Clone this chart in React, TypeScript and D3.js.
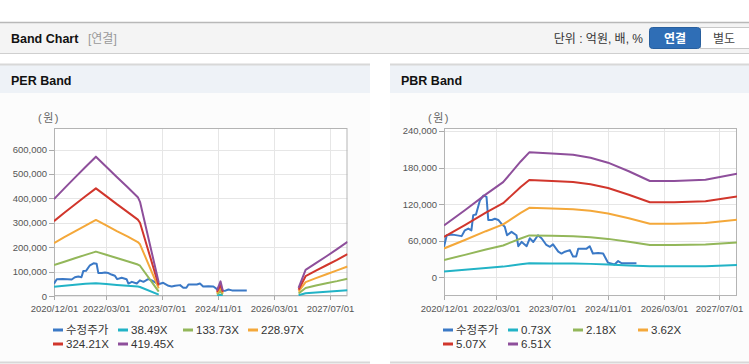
import React from "react";
import * as d3 from "d3";

// ---------------- data ----------------
const xDomain = ["2020-12-01", "2027-12-01"];
const xTickDates = ["2020-12-01", "2022-03-01", "2023-07-01", "2024-11-01", "2026-03-01", "2027-07-01"];
const xTickLabels = ["2020/12/01", "2022/03/01", "2023/07/01", "2024/11/01", "2026/03/01", "2027/07/01"];

const priceLabel = "수정주가";
const priceDates = [
  "2020-12-01", "2020-12-25", "2021-02-15", "2021-05-04", "2021-06-01", "2021-07-01", "2021-07-28",
  "2021-08-13", "2021-09-06", "2021-10-10", "2021-11-10", "2021-12-07", "2021-12-22", "2022-01-22",
  "2022-02-18", "2022-03-20", "2022-04-15", "2022-05-15", "2022-06-04", "2022-07-13", "2022-08-25",
  "2022-09-10", "2022-10-10", "2022-11-22", "2022-12-19", "2023-01-19", "2023-03-01", "2023-04-01",
  "2023-05-13", "2023-06-13", "2023-07-10", "2023-08-25", "2023-09-22", "2023-10-22", "2023-12-04",
  "2024-01-01", "2024-01-28", "2024-02-15", "2024-04-28", "2024-05-25", "2024-06-22", "2024-08-06",
  "2024-09-19", "2024-11-01", "2024-12-28", "2025-01-28", "2025-02-28", "2025-07-07",
];
const priceValues = [
  50000, 69000, 70000, 67500, 77000, 80000, 77000,
  102000, 103000, 126000, 134000, 132000, 94000, 94000,
  96000, 94000, 88000, 83000, 69000, 74500, 69000,
  51000, 58000, 51000, 64000, 58000, 69000, 64000,
  53000, 50000, 54000, 42000, 39000, 42000, 44600,
  34000, 34000, 47000, 47000, 51000, 39000, 40000,
  39000, 24000, 21000, 26600, 23000, 23000,
];

// PER band (null = no data)
const perBandLabels = ["38.49X", "133.73X", "228.97X", "324.21X", "419.45X"];
const perBandDates = [
  "2020-12-01", "2021-03-01", "2021-06-01", "2021-09-01", "2021-12-01", "2022-03-01", "2022-06-01",
  "2022-09-01", "2022-12-01", "2022-12-20", "2023-06-01", "2024-01-01",
  "2024-10-20", "2024-11-20", "2024-12-10", "2025-06-01",
  "2026-10-01", "2026-12-01", "2027-03-01", "2027-06-01", "2027-09-01", "2027-12-01",
];
const perBand1 = [38000, 42000, 46000, 50000, 52400, 49000, 45500, 42000, 39000, 37000, 5500, null, 2000, 5500, 2000, null, 3000, 11000, 14000, 17000, 20500, 24000];
const perBand2 = [126600, 140500, 154500, 168500, 182000, 169000, 155500, 142500, 129000, 124000, 18000, null, 7000, 19000, 7000, null, 10500, 33000, 43000, 52000, 61000, 71000];
const perBand3 = [216700, 241000, 265000, 288500, 311700, 289500, 266000, 244000, 221000, 212000, 31000, null, 12000, 33000, 12000, null, 18000, 57000, 73000, 89000, 105000, 121000];
const perBand4 = [306800, 341000, 375000, 408500, 441000, 409500, 376500, 345000, 313000, 300000, 43000, null, 17000, 45000, 17000, null, 25500, 81000, 104000, 126000, 148000, 172000];
const perBand5 = [397000, 441000, 485000, 528500, 571000, 530000, 487500, 446500, 405000, 386000, 55000, null, 22000, 60000, 22000, null, 33000, 107000, 135000, 163000, 192000, 222000];
const perYTicks = [0, 100000, 200000, 300000, 400000, 500000, 600000];
const perYDomain = [0, 688500];

// PBR band
const pbrBandLabels = ["0.73X", "2.18X", "3.62X", "5.07X", "6.51X"];
const pbrBandDates = [
  "2020-12-01", "2021-06-01", "2021-12-01", "2022-05-01", "2022-10-01", "2022-12-15", "2023-07-01",
  "2024-01-01", "2024-06-01", "2024-11-01", "2025-05-01", "2025-11-01", "2026-06-01", "2027-03-01",
  "2027-12-01",
];
const pbrBand1 = [9500, 12300, 15200, 17500, 21300, 23000, 22800, 22500, 22000, 21100, 19500, 18000, 18000, 18200, 20000];
const pbrBand2 = [28500, 36800, 45500, 52200, 63600, 68700, 68000, 67300, 65600, 63000, 58300, 52900, 52900, 53600, 56900];
const pbrBand3 = [47300, 61200, 75600, 86700, 105600, 114000, 112900, 111800, 109000, 104500, 96700, 87800, 87800, 89000, 94500];
const pbrBand4 = [66200, 85700, 105900, 121500, 148000, 159700, 158100, 156500, 152600, 146400, 135500, 123000, 123000, 124600, 132400];
const pbrBand5 = [85000, 110000, 136000, 156000, 190000, 205000, 203000, 201000, 196000, 188000, 174000, 158000, 158000, 160000, 170000];
const pbrYTicks = [0, 60000, 120000, 180000, 240000];
const pbrYDomain = [-30700, 244900];

const seriesColors = ["#3b79c6", "#22b3c6", "#93b75a", "#f4a83a", "#d1362c", "#8e4f9b"];

// ---------------- chart ----------------
const FONT = "'Liberation Sans', Arial, 'Noto Sans CJK KR', sans-serif";
const parse = (s: string) => new Date(s + "T00:00:00");

type Plot = { left: number; top: number; right: number; bottom: number };

function BandPanel(props: {
  id: string;
  x0: number;
  x1: number;
  title: string;
  plot: Plot;
  yDomain: number[];
  yTicks: number[];
  bandDates: string[];
  bands: (number | null)[][];
  bandLabels: string[];
}) {
  const { id, x0, x1, title, plot, yDomain, yTicks, bandDates, bands, bandLabels } = props;
  const x = d3.scaleTime().domain(xDomain.map(parse)).range([plot.left, plot.right]);
  const y = d3.scaleLinear().domain(yDomain).range([plot.bottom, plot.top]);
  type P = { d: Date; v: number | null };
  const line = d3
    .line<P>()
    .defined((p) => p.v != null)
    .x((p) => x(p.d))
    .y((p) => y(p.v as number));
  const pricePts: P[] = priceDates.map((d, i) => ({ d: parse(d), v: priceValues[i] }));
  const bandPts: P[][] = bands.map((b) => bandDates.map((d, i) => ({ d: parse(d), v: b[i] })));
  const fmt = d3.format(",");
  const legendItems = [priceLabel, ...bandLabels];
  const colW = 65;
  return (
    <g>
      <defs>
        <clipPath id={"clip-" + id}>
          <rect x={plot.left} y={plot.top} width={plot.right - plot.left} height={plot.bottom - plot.top} />
        </clipPath>
      </defs>
      <rect x={x0} y={64} width={x1 - x0} height={29} fill="#eef2f7" />
      <line x1={x0} x2={x1} y1={64.5} y2={64.5} stroke="#d8d8d8" strokeWidth={2} />
      <rect x={x0} y={93} width={x1 - x0} height={269} fill="#fcfcfc" />
      <line x1={x0} x2={x1} y1={362.5} y2={362.5} stroke="#d8d8d8" strokeWidth={2} />
      <text x={x0 + 11} y={84.5} fontFamily={FONT} fontWeight="bold" fontSize={12.5} fill="#111">
        {title}
      </text>
      <text x={plot.left - 5} y={122} textAnchor="middle" fontFamily={FONT} fontSize={11} fill="#666" letterSpacing={1.5}>
        (원)
      </text>
      <rect x={plot.left} y={plot.top} width={plot.right - plot.left} height={plot.bottom - plot.top} fill="#fff" />
      {yTicks.map((t) => (
        <g key={"y" + t}>
          <line x1={plot.left} x2={plot.right} y1={Math.round(y(t)) + 0.5} y2={Math.round(y(t)) + 0.5} stroke="#e6e6e6" />
          <line x1={plot.left - 5} x2={plot.left} y1={Math.round(y(t)) + 0.5} y2={Math.round(y(t)) + 0.5} stroke="#aaa" />
          <text x={plot.left - 7} y={y(t) + 3.5} textAnchor="end" fontFamily={FONT} fontSize={9.5} fill="#555">
            {fmt(t)}
          </text>
        </g>
      ))}
      {xTickDates.map((t, i) => {
        const xx = Math.round(x(parse(t))) + 0.5;
        return (
          <g key={"x" + t}>
            <line x1={xx} x2={xx} y1={plot.top} y2={plot.bottom} stroke="#e6e6e6" />
            <line x1={xx} x2={xx} y1={plot.bottom} y2={plot.bottom + 4} stroke="#aaa" />
            <text x={xx} y={plot.bottom + 15.5} textAnchor="middle" fontFamily={FONT} fontSize={9.5} fill="#555">
              {xTickLabels[i]}
            </text>
          </g>
        );
      })}
      <rect
        x={plot.left + 0.5}
        y={plot.top + 0.5}
        width={plot.right - plot.left - 1}
        height={plot.bottom - plot.top - 1}
        fill="none"
        stroke="#b4b4b4"
      />
      <g clipPath={`url(#clip-${id})`} fill="none" strokeWidth={2} strokeLinejoin="round">
        <path d={line(pricePts) || ""} stroke={seriesColors[0]} />
        {bandPts.map((pts, i) => (
          <path key={i} d={line(pts) || ""} stroke={seriesColors[i + 1]} />
        ))}
      </g>
      {legendItems.map((lab, i) => {
        const col = i % 4;
        const row = Math.floor(i / 4);
        const lx = plot.left - 1 + col * colW;
        const ly = 330 + row * 14;
        return (
          <g key={"l" + i}>
            <line x1={lx} x2={lx + 10} y1={ly} y2={ly} stroke={seriesColors[i]} strokeWidth={3} />
            <text x={lx + 13} y={ly + 4} fontFamily={FONT} fontSize={11.5} fill="#333">
              {lab}
            </text>
          </g>
        );
      })}
    </g>
  );
}

export default function App() {
  return (
    <svg
      width={749}
      height={364}
      style={{ position: "absolute", left: 0, top: 0, background: "#fff" }}
      xmlns="http://www.w3.org/2000/svg"
    >
      <rect x={0} y={22} width={749} height={32} fill="#f4f4f4" />
      <line x1={0} x2={749} y1={22.5} y2={22.5} stroke="#b8b8b8" strokeWidth={1.5} />
      <line x1={0} x2={749} y1={53.5} y2={53.5} stroke="#cfcfcf" />
      <text x={11} y={43} fontFamily={FONT} fontWeight="bold" fontSize={12.5} fill="#111">
        Band Chart
      </text>
      <text x={88} y={43} fontFamily={FONT} fontSize={12} fill="#999">
        [연결]
      </text>
      <text x={643} y={43} textAnchor="end" fontFamily={FONT} fontSize={12} fill="#333">
        단위 : 억원, 배, %
      </text>
      <rect x={700.5} y={27.5} width={52} height={21} fill="#fff" stroke="#c8c8c8" />
      <text x={724} y={42.5} textAnchor="middle" fontFamily={FONT} fontSize={12} fill="#444">
        별도
      </text>
      <rect x={649.5} y={27.5} width={51} height={21} rx={3} fill="#2f6eb6" stroke="#285f9e" />
      <text x={675} y={42.5} textAnchor="middle" fontFamily={FONT} fontWeight="bold" fontSize={12} fill="#fff">
        연결
      </text>
      <BandPanel
        id="per"
        x0={0}
        x1={370}
        title="PER Band"
        plot={{ left: 54, top: 128, right: 347.5, bottom: 296 }}
        yDomain={perYDomain}
        yTicks={perYTicks}
        bandDates={perBandDates}
        bands={[perBand1, perBand2, perBand3, perBand4, perBand5]}
        bandLabels={perBandLabels}
      />
      <BandPanel
        id="pbr"
        x0={390}
        x1={749}
        title="PBR Band"
        plot={{ left: 444, top: 128, right: 737, bottom: 296 }}
        yDomain={pbrYDomain}
        yTicks={pbrYTicks}
        bandDates={pbrBandDates}
        bands={[pbrBand1, pbrBand2, pbrBand3, pbrBand4, pbrBand5]}
        bandLabels={pbrBandLabels}
      />
    </svg>
  );
}
